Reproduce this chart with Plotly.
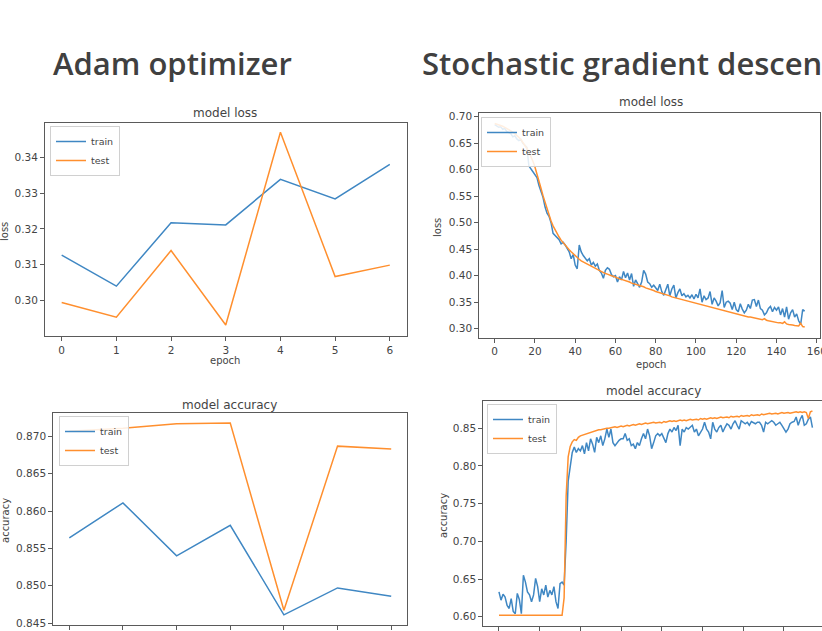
import plotly.graph_objects as go

# ---------------- data ----------------
adam_epochs = [0, 1, 2, 3, 4, 5, 6]
adam_loss_train = [0.3126, 0.3039, 0.3217, 0.3211, 0.3339, 0.3284, 0.3381]
adam_loss_test = [0.2993, 0.2952, 0.3139, 0.2930, 0.3471, 0.3066, 0.3098]
adam_acc_train = [0.8564, 0.8611, 0.8540, 0.8581, 0.8461, 0.8497, 0.8486]
adam_acc_test = [0.8707, 0.8711, 0.8717, 0.8718, 0.8467, 0.8687, 0.8683]

sgd_loss_train = [
    0.685, 0.683, 0.680, 0.681, 0.676, 0.678, 0.672, 0.670, 0.668, 0.662,
    0.664, 0.658, 0.655, 0.657, 0.650, 0.646, 0.642, 0.607, 0.602, 0.597,
    0.590, 0.585, 0.570, 0.560, 0.548, 0.530, 0.518, 0.512, 0.500, 0.480,
    0.476, 0.472, 0.468, 0.460, 0.463, 0.458, 0.450, 0.445, 0.432, 0.440,
    0.420, 0.413, 0.458, 0.445, 0.438, 0.432, 0.428, 0.432, 0.420, 0.425,
    0.418, 0.422, 0.410, 0.405, 0.395, 0.410, 0.415, 0.412, 0.402, 0.398,
    0.400, 0.388, 0.398, 0.392, 0.408, 0.396, 0.405, 0.392, 0.404, 0.380,
    0.392, 0.385, 0.378, 0.388, 0.410, 0.403, 0.388, 0.385, 0.378, 0.382,
    0.376, 0.372, 0.384, 0.370, 0.363, 0.372, 0.384, 0.362, 0.375, 0.382,
    0.358, 0.368, 0.375, 0.362, 0.366, 0.360, 0.363, 0.358, 0.364, 0.356,
    0.365, 0.358, 0.375, 0.350, 0.362, 0.355, 0.358, 0.370, 0.346, 0.358,
    0.352, 0.343, 0.349, 0.372, 0.340, 0.350, 0.352, 0.348, 0.336, 0.350,
    0.336, 0.332, 0.347, 0.337, 0.330, 0.335, 0.346, 0.338, 0.354, 0.355,
    0.342, 0.354, 0.338, 0.335, 0.326, 0.330, 0.338, 0.342, 0.332, 0.340,
    0.335, 0.341, 0.326, 0.338, 0.322, 0.341, 0.318, 0.330, 0.336, 0.322,
    0.328, 0.315, 0.308, 0.336, 0.333,
]
sgd_loss_test = [
    0.687, 0.686, 0.685, 0.683, 0.682, 0.680, 0.678, 0.676, 0.674, 0.671,
    0.668, 0.665, 0.661, 0.657, 0.652, 0.646, 0.640, 0.633, 0.625, 0.616,
    0.605, 0.593, 0.579, 0.565, 0.551, 0.538, 0.525, 0.513, 0.503, 0.494,
    0.486, 0.479, 0.473, 0.467, 0.462, 0.457, 0.453, 0.449, 0.445, 0.441,
    0.437, 0.434, 0.431, 0.428, 0.426, 0.423, 0.421, 0.419, 0.417, 0.415,
    0.413, 0.411, 0.409, 0.407, 0.406, 0.404, 0.403, 0.401, 0.400, 0.399,
    0.397, 0.396, 0.394, 0.393, 0.392, 0.390, 0.389, 0.388, 0.386, 0.385,
    0.384, 0.382, 0.381, 0.380, 0.379, 0.377, 0.376, 0.375, 0.373, 0.372,
    0.370, 0.369, 0.368, 0.366, 0.365, 0.364, 0.363, 0.362, 0.360, 0.359,
    0.358, 0.357, 0.356, 0.355, 0.354, 0.352, 0.351, 0.350, 0.349, 0.348,
    0.347, 0.346, 0.345, 0.344, 0.343, 0.342, 0.341, 0.340, 0.339, 0.338,
    0.337, 0.336, 0.335, 0.334, 0.333, 0.332, 0.331, 0.330, 0.329, 0.328,
    0.327, 0.327, 0.326, 0.325, 0.324, 0.323, 0.322, 0.322, 0.321, 0.320,
    0.319, 0.318, 0.318, 0.317, 0.319, 0.316, 0.315, 0.314, 0.314, 0.313,
    0.312, 0.311, 0.311, 0.310, 0.313, 0.309, 0.308, 0.308, 0.307, 0.306,
    0.306, 0.305, 0.310, 0.304, 0.303,
]
sgd_acc_train = [
    0.633, 0.622, 0.630, 0.626, 0.615, 0.611, 0.624, 0.607, 0.604, 0.631,
    0.623, 0.604, 0.655, 0.646, 0.633, 0.629, 0.620, 0.629, 0.651, 0.640,
    0.620, 0.637, 0.629, 0.642, 0.626, 0.635, 0.629, 0.640, 0.620, 0.611,
    0.644, 0.646, 0.642, 0.700, 0.780, 0.800, 0.818, 0.825, 0.818, 0.823,
    0.820, 0.827, 0.816, 0.831, 0.820, 0.836, 0.829, 0.818, 0.838, 0.831,
    0.840, 0.827, 0.836, 0.849, 0.838, 0.849, 0.831, 0.827, 0.831, 0.834,
    0.836, 0.836, 0.843, 0.834, 0.836, 0.827, 0.829, 0.823, 0.831, 0.827,
    0.836, 0.843, 0.836, 0.849, 0.840, 0.823, 0.831, 0.840, 0.843, 0.840,
    0.843, 0.836, 0.831, 0.843, 0.849, 0.845, 0.851, 0.847, 0.854, 0.827,
    0.849, 0.845, 0.851, 0.849, 0.851, 0.854, 0.845, 0.849, 0.840, 0.845,
    0.849, 0.858, 0.849, 0.845, 0.836, 0.858, 0.849, 0.845, 0.851, 0.854,
    0.845, 0.851, 0.856, 0.854, 0.849, 0.856, 0.860, 0.854, 0.849, 0.860,
    0.858, 0.856, 0.858, 0.854, 0.859, 0.857, 0.856, 0.858, 0.858, 0.854,
    0.845, 0.858, 0.856, 0.858, 0.860, 0.858, 0.854, 0.856, 0.858, 0.854,
    0.849, 0.845, 0.849, 0.856, 0.858, 0.859, 0.865, 0.854, 0.862, 0.867,
    0.854, 0.856, 0.862, 0.865, 0.851,
]
sgd_acc_test = [
    0.602, 0.602, 0.602, 0.602, 0.602, 0.602, 0.602, 0.602, 0.602, 0.602,
    0.602, 0.602, 0.602, 0.602, 0.602, 0.602, 0.602, 0.602, 0.602, 0.602,
    0.602, 0.602, 0.602, 0.602, 0.602, 0.602, 0.602, 0.602, 0.602, 0.602,
    0.602, 0.602, 0.625, 0.760, 0.812, 0.826, 0.832, 0.835, 0.834, 0.838,
    0.840, 0.841, 0.842, 0.843, 0.844, 0.845, 0.846, 0.846, 0.847, 0.848,
    0.848, 0.849, 0.849, 0.850, 0.850, 0.851, 0.851, 0.852, 0.851, 0.852,
    0.853, 0.852, 0.853, 0.854, 0.853, 0.854, 0.855, 0.854, 0.855, 0.856,
    0.855, 0.856, 0.857, 0.856, 0.857, 0.857, 0.858, 0.857, 0.858, 0.858,
    0.857, 0.859, 0.858, 0.859, 0.860, 0.859, 0.860, 0.859, 0.860, 0.861,
    0.860, 0.861, 0.860, 0.861, 0.862, 0.861, 0.862, 0.862, 0.861, 0.863,
    0.862, 0.863, 0.862, 0.863, 0.864, 0.863, 0.864, 0.863, 0.864, 0.865,
    0.864, 0.865, 0.865, 0.864, 0.866, 0.865, 0.866, 0.866, 0.865, 0.867,
    0.866, 0.867, 0.867, 0.866, 0.868, 0.867, 0.868, 0.868, 0.867, 0.869,
    0.868, 0.869, 0.869, 0.870, 0.869, 0.870, 0.870, 0.869, 0.870, 0.871,
    0.870, 0.871, 0.871, 0.870, 0.871, 0.871, 0.872, 0.871, 0.872, 0.871,
    0.872, 0.871, 0.863, 0.872, 0.873,
]
sgd_epochs = list(range(len(sgd_loss_train)))

adam_loss_yticks = [0.30, 0.31, 0.32, 0.33, 0.34]
adam_acc_yticks = [0.845, 0.850, 0.855, 0.860, 0.865, 0.870]
sgd_loss_yticks = [0.30, 0.35, 0.40, 0.45, 0.50, 0.55, 0.60, 0.65, 0.70]
sgd_acc_yticks = [0.60, 0.65, 0.70, 0.75, 0.80, 0.85]
sgd_xticks = [0, 20, 40, 60, 80, 100, 120, 140, 160]

# ---------------- styling ----------------
W, H = 822, 631
BLUE = "#3f87c3"
ORANGE = "#ff8f2e"
SPINE = "#5a5a5a"
TXT = "#444444"
TICKFONT = dict(family="DejaVu Sans", size=10.5, color=TXT)


def px_x(p):
    return p / W


def px_y(p):
    return 1 - p / H


def xdom(l, r):
    return [px_x(l), min(px_x(r), 1.0)]


def ydom(top, bottom):
    return [px_y(bottom), px_y(top)]


def axis_common(**kw):
    d = dict(showline=True, mirror=True, linecolor=SPINE, linewidth=1,
             ticks="outside", ticklen=4, tickcolor=SPINE, tickwidth=1,
             showgrid=False, zeroline=False, tickfont=TICKFONT,
             automargin=False, fixedrange=True)
    d.update(kw)
    return d


fig = go.Figure()

panels = [
    (adam_epochs, adam_loss_train, adam_loss_test, "x", "y", "legend"),
    (adam_epochs, adam_acc_train, adam_acc_test, "x2", "y2", "legend2"),
    (sgd_epochs, sgd_loss_train, sgd_loss_test, "x3", "y3", "legend3"),
    (sgd_epochs, sgd_acc_train, sgd_acc_test, "x4", "y4", "legend4"),
]
for xs, tr, te, xa, ya, lg in panels:
    fig.add_trace(go.Scatter(x=xs, y=tr, mode="lines", name="train",
                             line=dict(color=BLUE, width=1.5),
                             xaxis=xa, yaxis=ya, legend=lg))
    fig.add_trace(go.Scatter(x=xs, y=te, mode="lines", name="test",
                             line=dict(color=ORANGE, width=1.5),
                             xaxis=xa, yaxis=ya, legend=lg))

legend_style = dict(font=dict(family="DejaVu Sans", size=9.5, color=TXT),
                    bgcolor="rgba(255,255,255,0.85)", bordercolor="#d0d0d0",
                    borderwidth=1, xanchor="left", yanchor="top",
                    itemwidth=30, tracegroupgap=0)

fig.update_layout(
    width=W, height=H,
    margin=dict(l=0, r=0, t=0, b=0),
    paper_bgcolor="white", plot_bgcolor="white",
    showlegend=True,
    # Adam loss
    xaxis=axis_common(domain=xdom(45, 407.3), range=[-0.305, 6.32],
                      tickvals=adam_epochs, anchor="y"),
    yaxis=axis_common(domain=ydom(122.7, 336), range=[0.2899, 0.3498],
                      tickvals=adam_loss_yticks, tickformat=".2f", anchor="x"),
    # Adam accuracy
    xaxis2=axis_common(domain=xdom(53.2, 407.3), range=[-0.3, 6.3],
                       tickvals=adam_epochs, showticklabels=False, anchor="y2"),
    yaxis2=axis_common(domain=ydom(413.3, 624.5), range=[0.8448, 0.8731],
                       tickvals=adam_acc_yticks, tickformat=".3f", anchor="x2"),
    # SGD loss
    xaxis3=axis_common(domain=xdom(479.3, 820), range=[-7.64, 161.6],
                       tickvals=sgd_xticks, anchor="y3",
                       ticklabeloverflow="allow"),
    yaxis3=axis_common(domain=ydom(113.3, 337.7), range=[0.2830, 0.7064],
                       tickvals=sgd_loss_yticks, tickformat=".2f", anchor="x3"),
    # SGD accuracy
    xaxis4=axis_common(domain=xdom(483.3, 822), range=[-7.7, 158.7],
                       tickvals=sgd_xticks, showticklabels=False, anchor="y4"),
    yaxis4=axis_common(domain=ydom(400.7, 625.5), range=[0.5884, 0.8866],
                       tickvals=sgd_acc_yticks, tickformat=".2f", anchor="x4"),
    legend=dict(legend_style, x=px_x(50), y=px_y(126)),
    legend2=dict(legend_style, x=px_x(59), y=px_y(416)),
    legend3=dict(legend_style, x=px_x(481), y=px_y(117)),
    legend4=dict(legend_style, x=px_x(487), y=px_y(404)),
)

ann = []


def add_text(text, x, y, size, angle=0, color=TXT, family="DejaVu Sans",
             weight=None, xanchor="center"):
    f = dict(family=family, size=size, color=color)
    if weight:
        f["weight"] = weight
    ann.append(dict(text=text, x=px_x(x), y=px_y(y), xref="paper", yref="paper",
                    showarrow=False, textangle=angle, font=f,
                    xanchor=xanchor, yanchor="middle"))


# Slide headings
add_text("Adam optimizer", 51, 63, 31, color="#404040", family="Open Sans",
         weight=600, xanchor="left")
add_text("Stochastic gradient descent", 420, 63, 31, color="#404040",
         family="Open Sans", weight=600, xanchor="left")

# Subplot titles
add_text("model loss", 225, 113, 12)
add_text("model accuracy", 229, 405, 12)
add_text("model loss", 651, 102, 12)
add_text("model accuracy", 653, 391, 12)

# Axis titles
add_text("epoch", 225, 361, 10)
add_text("epoch", 651, 364, 10)
add_text("loss", 4, 232, 10, angle=-90)
add_text("loss", 438, 228, 10, angle=-90)
add_text("accuracy", 5, 521, 10, angle=-90)
add_text("accuracy", 443, 515, 10, angle=-90)

fig.update_layout(annotations=ann)

fig.write_html("out.html",
               config={"displayModeBar": False},
               post_script="document.body.style.margin='0';"
                           "document.body.style.overflow='hidden';")
